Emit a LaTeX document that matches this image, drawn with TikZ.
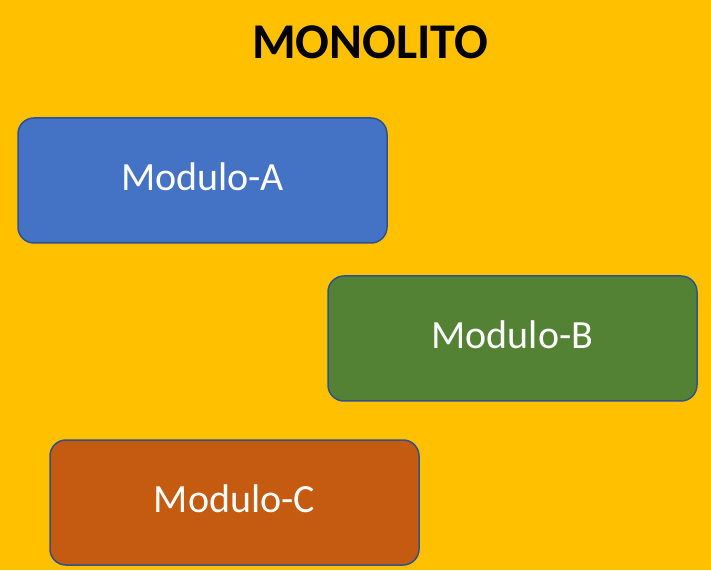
\documentclass[tikz,border=0pt]{standalone}
\usepackage{fontspec}
\setmainfont{Carlito}
\usetikzlibrary{positioning}
\definecolor{bgyellow}{HTML}{FFC000}
\definecolor{modblue}{HTML}{4472C4}
\definecolor{modgreen}{HTML}{548235}
\definecolor{modorange}{HTML}{C55A11}
\definecolor{edgeblue}{HTML}{2F528F}
\newcommand{\modtext}[1]{\raisebox{7pt}{#1}}
\begin{document}
\begin{tikzpicture}[x=1pt, y=1pt,
    modulo/.style = {draw=edgeblue, line width=1.5pt, rectangle, rounded corners=16pt,
                     minimum width=369pt, minimum height=125pt,
                     text=white, font=\fontsize{40}{46}\selectfont}]

    % Background
    \fill [bgyellow] (0,0) rectangle (711,570);
    \useasboundingbox (0,0) rectangle (711,570);

    % Title
    \node [font=\bfseries\fontsize{50}{56}\selectfont] (title) at (370,528) {MONOLITO};

    % Modules
    \node [modulo, fill=modblue] (modA) at (202.5,389.5) {\modtext{Modulo-A}};
    \node [modulo, fill=modgreen] (modB) at (512.5,231.5) {\modtext{Modulo-B}};
    \node [modulo, fill=modorange] (modC) at (234.5,67.5) {\modtext{Modulo-C}};
\end{tikzpicture}
\end{document}
